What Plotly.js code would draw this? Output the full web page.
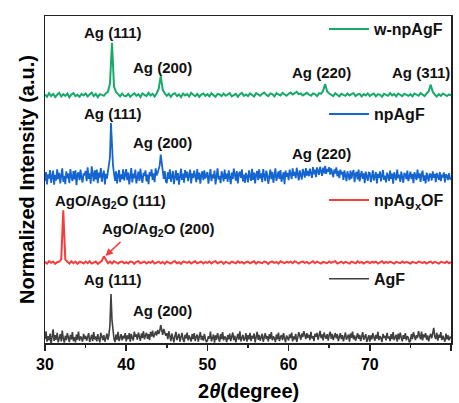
<!DOCTYPE html>
<html>
<head>
<meta charset="utf-8">
<script src="https://cdn.plot.ly/plotly-3.0.1.min.js"></script>
<style>html,body{margin:0;padding:0;background:#fff;}#chart{width:459px;height:403px;}</style>
</head>
<body>
<div id="chart"></div>
<script>
// 2-theta sampling grids: 30 to 80 degrees
const thetaStart = 30;
const coarseStep = 0.25, coarseN = 201;   // w-npAgF, npAgxOF
const fineStep = 0.125, fineN = 401;      // npAgF, AgF
const twoThetaCoarse = Array.from({length: coarseN}, (_, i) => thetaStart + coarseStep * i);
const twoThetaFine = Array.from({length: fineN}, (_, i) => thetaStart + fineStep * i);

// Series names
const seriesNames = ['w-npAgF', 'npAgF', 'npAg<sub>x</sub>OF', 'AgF'];
// Vertical stacking offsets (normalized units)
const seriesOffsets = [75.8, 50.8, 24.6, 0];

// Normalized intensities (relative to each baseline)
const wnpAgF = [
 0.2,-0.5,0.6,-0.3,0.4,-0.6,0.1,0.7,-0.4,0.3,-0.2,0.5,-0.7,0.2,0.6,-0.3,0.1,-0.5,0.4,-0.1,
 0.5,-0.4,0.2,0.8,-0.3,0.4,-0.6,0.3,0.1,-0.2,0.6,1.0,3.5,16.0,2.6,0.9,0.3,-0.4,0.5,-0.2,
 -0.3,0.4,-0.5,0.2,0.6,-0.2,0.3,-0.6,0.5,0.1,-0.3,0.7,-0.1,0.4,-0.4,0.6,1.9,5.8,1.7,0.5,
 -0.2,0.4,-0.5,0.3,0.6,-0.3,0.2,-0.6,0.5,-0.1,0.3,-0.4,0.7,0.1,-0.3,0.4,-0.5,0.2,0.5,-0.2,
 0.3,-0.4,0.6,0.0,-0.5,0.4,0.2,-0.3,0.5,-0.2,0.3,0.6,-0.4,0.1,0.4,-0.5,0.3,0.7,-0.2,0.2,
 -0.3,0.5,0.1,-0.4,0.6,0.2,-0.2,0.4,0.8,0.1,-0.3,0.5,0.3,-0.4,0.6,0.2,-0.1,0.7,0.3,-0.2,
 0.4,0.8,0.2,0.6,1.0,0.3,0.5,-0.1,0.4,0.7,0.2,-0.2,0.5,0.3,-0.3,0.6,0.4,1.3,3.4,1.1,
 0.5,0.2,-0.3,0.6,0.1,-0.4,0.4,0.2,-0.2,0.5,-0.1,0.3,0.6,-0.3,0.2,0.4,-0.4,0.3,-0.1,0.5,
 -0.3,0.2,0.5,-0.4,0.3,0.1,-0.5,0.4,0.2,-0.2,0.6,-0.1,0.3,-0.4,0.5,0.0,-0.3,0.4,0.2,-0.2,
 0.3,-0.4,0.5,0.1,-0.2,0.6,0.2,-0.3,0.5,1.2,3.2,1.0,0.2,-0.4,0.3,-0.2,0.5,0.1,-0.3,0.2,
 -0.1
];
const npAgF = [
 -1.2,1.5,-2.3,0.8,-0.5,2.1,-1.8,0.4,1.9,-2.4,0.6,-1.1,2.3,-0.7,1.2,-2.0,0.9,2.6,-1.5,0.3,-2.2,1.7,-0.4,1.0,-1.9,2.4,0.1,-1.3,1.8,-0.8,2.0,-2.5,0.7,1.4,-1.0,2.2,-0.3,-1.7,1.1,0.5,
 1.8,-1.3,2.9,-0.6,1.1,-2.1,3.2,0.2,-1.4,2.0,-0.8,2.2,-1.9,1.3,-0.2,2.7,-1.5,0.6,1.9,-2.3,0.9,-0.5,1.5,3.0,6.0,16.5,9.0,3.5,1.0,-1.2,1.7,-2.0,0.4,2.1,-1.6,0.8,-0.7,2.3,-1.1,0.6,
 2.4,-1.0,1.3,-2.3,0.5,2.7,-1.7,1.0,-0.4,2.2,-2.0,0.8,1.6,-1.2,2.5,-0.3,-1.8,1.2,0.3,2.0,-1.4,0.7,-2.2,1.5,0.2,2.3,-0.9,1.1,-1.6,2.6,0.4,1.3,2.2,3.5,6.8,4.0,1.5,-0.6,1.8,-1.3,
 -1.9,1.4,-0.6,2.3,-1.5,0.9,1.8,-2.2,0.4,2.0,-1.1,1.2,-2.4,0.7,2.5,-0.9,1.0,-1.8,2.1,-0.2,1.6,-1.3,0.5,2.2,-2.0,1.1,-0.4,1.9,0.3,-1.6,2.4,-0.8,1.3,-2.1,0.6,1.7,-1.0,2.0,-0.5,0.9,
 1.5,-2.1,0.6,2.4,-1.3,0.8,-0.4,1.9,-2.3,1.1,2.6,-0.8,0.3,-1.9,1.7,0.5,-1.4,2.2,-0.6,1.0,-1.5,2.0,0.2,-2.2,1.3,-0.7,2.5,0.4,-1.1,1.8,-2.0,0.9,1.6,-0.3,2.3,-1.4,0.7,-1.8,1.2,0.1,
 -1.7,2.0,0.2,-1.2,2.5,-0.9,1.3,-2.0,0.7,1.8,-1.0,2.3,-0.5,1.1,-1.6,2.4,0.4,-1.3,1.9,0.6,-2.1,1.0,2.2,-0.7,1.5,-1.8,0.3,2.6,-1.2,0.8,1.7,-0.6,2.1,-1.5,0.5,1.4,-2.2,1.9,0.0,1.2,
 -1.0,2.2,0.9,-0.7,2.6,0.3,1.5,-0.4,2.8,1.0,-1.1,2.0,0.6,-0.8,2.4,1.3,-0.2,2.7,0.4,1.8,0.2,2.5,1.2,-0.3,3.0,0.8,2.2,-0.1,2.9,1.4,0.6,3.1,1.7,0.3,2.8,1.1,3.4,0.9,2.4,1.6,
 3.0,0.7,2.6,1.4,-0.1,2.3,1.0,2.9,0.2,1.8,-0.4,2.2,0.8,1.5,-0.9,2.0,0.3,-1.3,1.7,0.6,-1.0,1.9,-0.5,1.2,2.1,-1.6,0.9,1.5,-0.8,2.2,-1.4,0.5,1.8,-0.6,1.1,-1.9,1.6,0.2,-1.2,1.3,
 1.2,-1.6,0.8,2.0,-1.1,0.5,1.5,-2.0,0.9,-0.3,1.7,-1.4,0.6,2.1,-0.9,0.4,-1.7,1.3,0.2,-1.2,1.9,-0.6,1.0,-2.1,1.4,0.3,-1.0,2.2,-0.4,0.7,-1.5,1.6,0.1,-1.8,1.2,0.8,-0.7,1.9,-1.3,0.4,
 1.6,-0.7,0.9,-1.9,1.4,0.3,-1.0,2.2,-0.4,1.1,-1.5,0.8,1.9,-1.2,0.5,-2.0,1.3,0.1,-1.4,1.0,0.6,-1.1,1.7,-0.3,0.9,-1.6,1.2,0.2,-0.9,1.5,-1.3,0.7,-0.2,1.4,-1.7,0.8,0.3,-1.0,1.1,-0.5,
 -0.8
];
const npAgxOF = [
 0.2,-0.3,0.4,-0.1,0.3,-0.4,0.1,0.3,1.0,16.0,0.9,0.2,-0.3,0.4,-0.2,0.3,-0.4,0.2,0.1,-0.3,
 0.3,-0.2,0.4,-0.3,0.1,0.3,-0.4,0.2,0.5,1.9,0.6,-0.2,0.3,-0.3,0.4,0.0,-0.3,0.2,0.3,-0.2,
 0.1,-0.3,0.3,0.2,-0.4,0.2,0.4,-0.2,0.1,0.3,-0.3,0.2,-0.1,0.4,-0.3,0.1,0.3,-0.2,0.2,-0.4,
 0.3,0.0,-0.3,0.2,0.4,-0.2,0.1,-0.4,0.3,0.2,-0.1,0.3,-0.3,0.1,0.4,-0.2,0.0,0.3,-0.3,0.2,
 -0.1,0.3,-0.3,0.2,0.4,-0.2,0.1,0.3,-0.4,0.2,0.0,-0.3,0.3,0.1,-0.2,0.4,-0.1,0.2,-0.3,0.1,
 0.3,-0.2,0.1,0.4,-0.3,0.2,0.0,-0.2,0.3,0.1,-0.4,0.2,0.3,-0.1,0.2,-0.3,0.4,0.1,-0.2,0.2,
 0.0,0.3,-0.2,0.4,0.1,-0.3,0.2,0.3,-0.1,0.2,-0.3,0.1,0.4,-0.2,0.3,0.0,-0.3,0.2,0.1,-0.2,
 0.3,-0.1,0.2,0.4,-0.3,0.1,0.3,-0.2,0.2,0.0,-0.3,0.3,0.1,-0.2,0.4,-0.1,0.2,-0.3,0.1,0.3,
 -0.2,0.2,0.0,0.3,-0.3,0.1,0.4,-0.2,0.2,-0.1,0.3,0.0,-0.3,0.2,0.1,-0.2,0.3,-0.1,0.2,0.0,
 -0.3,0.2,0.1,-0.2,0.3,0.0,-0.1,0.2,-0.3,0.1,0.3,-0.2,0.2,0.0,-0.3,0.2,0.1,-0.1,0.3,-0.2,
 0.1
];
const AgF = [
 1.2,3.6,0.4,2.1,0.8,2.9,-0.3,1.7,4.2,0.6,2.4,1.0,3.1,0.2,1.9,2.7,0.5,3.8,1.3,0.1,2.2,0.9,3.0,1.4,0.3,2.5,1.1,3.3,0.6,1.8,0.2,2.6,1.0,3.5,0.7,2.0,1.5,0.4,2.8,1.2,
 2.2,0.7,1.6,3.0,0.3,1.4,2.5,0.6,3.3,1.1,2.0,0.5,2.7,1.3,0.2,3.1,1.8,0.9,2.4,0.4,1.5,2.9,1.0,2.5,5.5,15.0,7.0,3.0,1.2,0.3,2.6,1.0,3.4,0.6,1.9,2.7,0.8,2.2,1.4,3.0,
 0.5,2.3,1.2,3.0,0.4,2.8,1.5,0.8,3.5,1.9,2.6,1.0,3.2,2.1,0.7,2.9,1.6,3.6,1.1,2.4,3.1,1.3,2.7,0.9,3.4,2.0,3.8,1.7,2.9,3.5,2.3,4.0,2.8,3.6,5.5,3.9,2.5,4.3,3.0,2.2,
 3.0,1.2,3.6,2.4,0.6,2.9,1.5,0.2,2.2,3.4,0.9,1.7,2.8,0.4,2.0,3.1,1.1,0.3,2.5,1.4,3.2,0.8,2.3,1.6,0.5,2.7,1.2,3.0,0.6,1.9,2.6,0.4,1.5,3.3,1.0,2.2,0.7,2.8,1.3,0.3,
 0.7,2.1,1.3,3.5,0.5,1.8,2.6,0.1,2.3,1.0,3.0,1.6,0.4,2.7,1.2,3.3,0.8,2.0,1.5,0.3,2.4,1.1,2.9,0.6,1.7,3.2,0.9,2.2,0.2,1.4,2.8,1.0,3.6,0.5,1.9,2.5,0.7,1.3,3.0,0.4,
 2.4,1.1,3.1,0.6,2.2,1.4,2.9,0.2,1.8,3.4,1.0,2.5,0.7,1.9,2.8,0.4,1.6,3.0,1.2,2.1,0.5,2.7,1.3,3.3,0.8,2.0,1.5,0.3,2.6,1.1,3.2,0.6,1.8,2.4,0.9,3.0,1.4,0.2,2.3,1.7,
 0.8,2.6,1.5,3.2,0.5,2.0,1.1,2.8,0.3,1.7,3.3,2.2,1.0,2.9,1.8,3.6,2.4,1.2,3.0,1.6,2.5,0.9,3.4,1.4,2.1,0.6,2.8,1.9,3.1,1.0,2.3,3.7,1.5,2.6,0.8,3.2,2.0,1.3,2.7,0.7,
 2.5,3.4,1.3,2.8,0.9,2.2,3.1,1.4,2.7,0.6,1.9,3.0,1.2,2.4,0.5,2.0,3.2,1.0,1.7,2.6,0.4,2.9,1.6,3.5,1.1,2.3,0.7,1.8,3.0,1.3,2.5,0.6,2.1,3.3,1.0,1.9,2.7,0.3,1.5,2.4,
 0.4,2.3,1.1,3.0,1.8,0.7,2.5,1.3,3.4,0.9,2.1,1.5,0.3,2.8,1.6,2.2,0.8,3.1,1.4,2.0,0.6,2.7,1.2,3.3,0.9,1.8,2.5,0.4,2.9,1.1,3.2,1.7,0.5,2.4,1.3,3.0,0.8,2.1,1.6,0.2,
 0.6,2.7,1.2,3.3,1.8,0.9,2.4,1.5,3.6,2.2,1.1,3.5,0.8,2.6,1.7,3.0,1.0,2.3,0.5,1.9,2.8,1.4,3.7,4.6,2.0,1.2,3.1,0.7,2.5,1.6,3.3,0.9,2.2,1.5,0.4,2.9,1.1,2.4,0.8,1.9,
 1.4
];
const seriesValues = [wnpAgF, npAgF, npAgxOF, AgF];
const seriesGrids = [twoThetaCoarse, twoThetaFine, twoThetaCoarse, twoThetaFine];
const seriesColors = ['#17a96c', '#1565d0', '#f63c3c', '#404040'];
const seriesWidths = [2, 1.8, 2, 1.6];

// Peak labels: text, 2theta, normalized y of label
const peakLabels = ['Ag (111)', 'Ag (200)', 'Ag (220)', 'Ag (311)',
                    'Ag (111)', 'Ag (200)', 'Ag (220)',
                    'AgO/Ag<sub>2</sub>O (111)', 'AgO/Ag<sub>2</sub>O (200)',
                    'Ag (111)', 'Ag (200)'];
const peakLabelX = [38.41, 44.51, 64.05, 76.3, 38.41, 44.51, 64.05, 38.1, 44.0, 38.41, 44.53];
const peakLabelY = [94.9, 84.2, 82.6, 82.6, 70.3, 61.2, 57.8, 43.4, 34.6, 19.3, 9.9];
// Arrow pointing at the small AgO/Ag2O (200) reflection
const arrowX = 37.45, arrowY = 26.6;

const fontFam = '"Liberation Sans", Arial, sans-serif';
const legendIds = ['legend', 'legend2', 'legend3', 'legend4'];
const legendY = [0.960, 0.700, 0.437, 0.196];
const xTitleText = '2<i>θ</i>(degree)';

const traces = seriesValues.map((vals, k) => ({
  type: 'scatter', mode: 'lines',
  x: seriesGrids[k],
  y: vals.map(v => v + seriesOffsets[k]),
  name: seriesNames[k],
  line: {color: seriesColors[k], width: seriesWidths[k]},
  legend: legendIds[k],
  hoverinfo: 'skip'
}));

const layout = {
  width: 459, height: 403,
  margin: {l: 45, r: 8, t: 16, b: 60},
  paper_bgcolor: '#fff', plot_bgcolor: '#fff',
  font: {family: fontFam, color: '#000'},
  showlegend: true,
  xaxis: {
    range: [30, 80], tickvals: [30, 40, 50, 60, 70, 80],
    ticks: 'outside', ticklen: 6, tickwidth: 1.5, tickcolor: '#222',
    minor: {dtick: 5, ticks: 'outside', ticklen: 3, tickwidth: 1.5, tickcolor: '#222', showgrid: false},
    showline: true, linewidth: 1.5, linecolor: '#222', mirror: true,
    showgrid: false, zeroline: false,
    tickfont: {size: 16, weight: 'bold', family: fontFam}
  },
  yaxis: {
    range: [0, 100], showticklabels: false, ticks: '',
    showline: true, linewidth: 1.5, linecolor: '#222', mirror: true,
    showgrid: false, zeroline: false,
    title: {text: 'Normalized Intensity (a.u.)', font: {size: 20, weight: 'bold', family: fontFam}, standoff: 3}
  },
  annotations: peakLabels.map((t, i) => ({
    text: t, x: peakLabelX[i], y: peakLabelY[i], xref: 'x', yref: 'y',
    showarrow: false, xanchor: 'center', yanchor: 'middle',
    font: {size: 15, weight: 'bold', family: fontFam, color: '#111'}
  })).concat([{
    text: ' ', x: arrowX, y: arrowY, xref: 'x', yref: 'y',
    showarrow: true, ax: 18, ay: -17, arrowhead: 2, arrowsize: 1, arrowwidth: 1.5,
    arrowcolor: '#f63c3c'
  }, {
    text: xTitleText, x: 0.5, y: -0.146, xref: 'paper', yref: 'paper',
    showarrow: false, xanchor: 'center', yanchor: 'middle',
    font: {size: 20, weight: 'bold', family: fontFam, color: '#000'}
  }])
};
legendIds.forEach((id, k) => {
  layout[id] = {
    x: (324 - 45) / 406, y: legendY[k], xanchor: 'left', yanchor: 'middle',
    bgcolor: 'rgba(0,0,0,0)', borderwidth: 0, itemwidth: 40,
    font: {size: 16, weight: 'bold', family: fontFam, color: '#111'}
  };
});

Plotly.newPlot('chart', traces, layout, {staticPlot: true, displayModeBar: false});
</script>
</body>
</html>
